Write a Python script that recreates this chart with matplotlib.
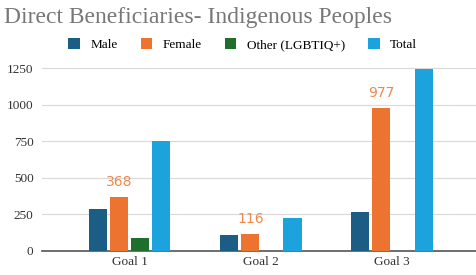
import numpy as np
import matplotlib
matplotlib.use("Agg")
import matplotlib.pyplot as plt

goals = ["Goal 1", "Goal 2", "Goal 3"]
series = ["Male", "Female", "Other (LGBTIQ+)", "Total"]
male = [286, 107, 263]
female = [368, 116, 977]
other = [89, 0, 0]
total = [754, 224, 1243]
colors = ["#1c5d85", "#ec7430", "#1f6e2c", "#1ca2dc"]

plt.rcParams["font.family"] = ["Liberation Serif", "DejaVu Serif"]

fig = plt.figure(figsize=(4.76, 2.75), dpi=100)
ax = fig.add_axes([0.088, 0.088, 0.92, 0.68])

x = np.arange(len(goals))
w = 0.138
step = 0.161
for i, (vals, c) in enumerate(zip([male, female, other, total], colors)):
    ax.bar(x + (i - 1.5) * step, vals, w, color=c, label=series[i], zorder=3)

# data labels on the Female series
for xi, v in zip(x, female):
    ax.text(xi - 0.5 * step, v + 55, str(v), ha="center", va="bottom",
            color="#f0884a", fontsize=10, family="DejaVu Sans")

ax.set_xlim(-0.67, 2.67)
ax.set_ylim(0, 1280)
ax.set_yticks([0, 250, 500, 750, 1000, 1250])
ax.set_xticks(x)
ax.set_xticklabels(goals)
ax.tick_params(length=0, labelsize=9.5, colors="#333333")
ax.tick_params(axis="y", pad=6)
ax.grid(axis="y", color="#d9d9d9", lw=0.8, zorder=0)
for s in ["top", "right", "left"]:
    ax.spines[s].set_visible(False)
ax.spines["bottom"].set_color("#555555")
ax.spines["bottom"].set_linewidth(1.2)

fig.text(0.008, 0.935, "Direct Beneficiaries- Indigenous Peoples", fontsize=17,
         color="#777777", va="center")
fig.legend(loc="center", bbox_to_anchor=(0.51, 0.838), ncol=4, frameon=False,
           fontsize=9.5, handlelength=0.9, handleheight=0.9, columnspacing=1.7,
           handletextpad=0.8)

fig.savefig("out.png", dpi=100)
